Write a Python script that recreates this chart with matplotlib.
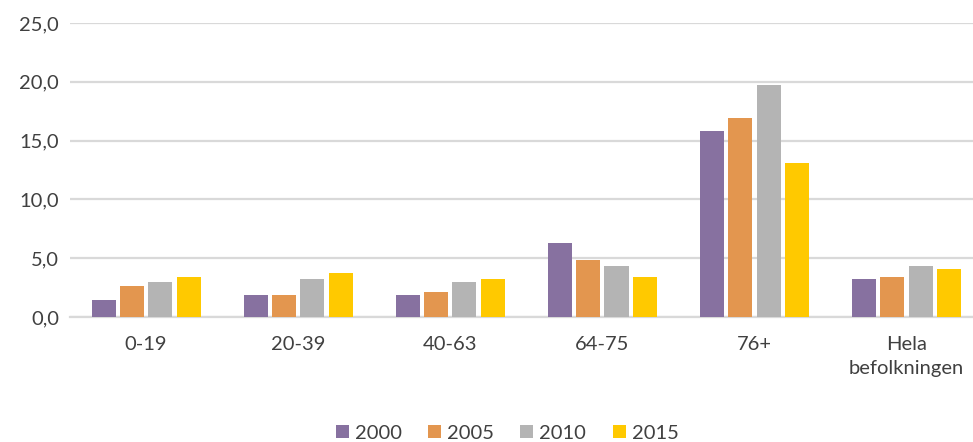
import numpy as np
import matplotlib.pyplot as plt
from matplotlib.ticker import FuncFormatter

# data
categories = ["0-19", "20-39", "40-63", "64-75", "76+", "Hela\nbefolkningen"]
years = ["2000", "2005", "2010", "2015"]
v2000 = [1.4, 1.9, 1.9, 6.3, 15.8, 3.2]
v2005 = [2.6, 1.9, 2.1, 4.8, 16.9, 3.4]
v2010 = [3.0, 3.2, 3.0, 4.3, 19.7, 4.3]
v2015 = [3.4, 3.7, 3.2, 3.4, 13.1, 4.1]
colors = ["#8771a0", "#e3964f", "#b4b4b4", "#ffc900"]

plt.rcParams['font.family'] = ['Lato', 'DejaVu Sans']

fig = plt.figure(figsize=(9.73, 4.42), dpi=100)
ax = fig.add_axes([0.072, 0.283, 0.93, 0.665])

x = np.arange(len(categories))
slot = 0.186
bw = 0.158
series = [v2000, v2005, v2010, v2015]
for i, vals in enumerate(series):
    ax.bar(x + (i - 1.5) * slot, vals, width=bw, color=colors[i],
           label=years[i], zorder=3)

ax.set_ylim(0, 25)
ax.set_xlim(-0.5, 5.45)
ax.set_yticks(np.arange(0, 26, 5))
ax.yaxis.set_major_formatter(FuncFormatter(lambda v, p: f"{v:.1f}".replace(".", ",")))
ax.grid(axis='y', color='#d9d9d9', linewidth=1.6, zorder=0)
for s in ['top', 'right', 'left']:
    ax.spines[s].set_visible(False)
ax.spines['bottom'].set_color('#d9d9d9')
ax.spines['bottom'].set_linewidth(1.6)
ax.set_xticks(x)
ax.set_xticklabels(categories, linespacing=1.45)
ax.tick_params(axis='both', length=0, labelsize=14.5, colors='#404040', pad=8)
ax.tick_params(axis='x', pad=14)

ax.legend(loc='center', bbox_to_anchor=(0.483, -0.395), ncol=4, frameon=False,
          fontsize=14.5, handlelength=0.65, handleheight=0.65, handletextpad=0.3,
          columnspacing=1.3, labelcolor='#404040')

fig.savefig("out.png", dpi=100)
